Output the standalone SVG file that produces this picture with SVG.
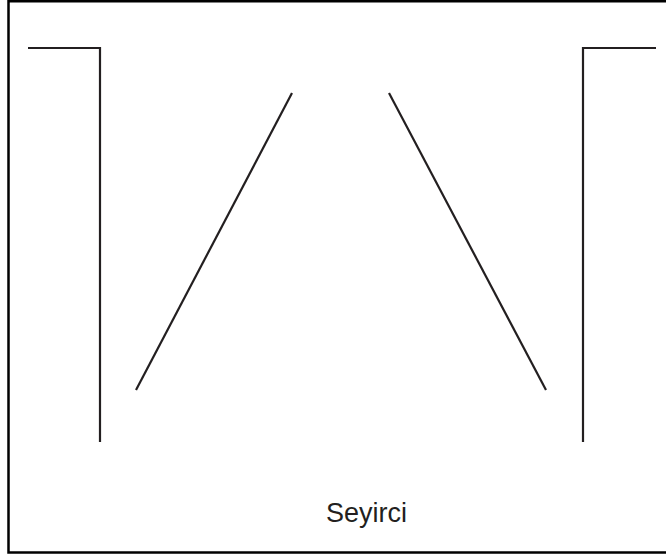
<svg xmlns="http://www.w3.org/2000/svg" width="666" height="557" viewBox="0 0 666 557">
<style>
.frame{fill:none;stroke:#000;stroke-width:2.5}
.wall{fill:none;stroke:#231f20;stroke-width:2.2}
.label{font-family:"Liberation Sans",Arial,sans-serif;font-size:27px;fill:#231f20;text-anchor:middle}
</style>
<rect width="666" height="557" fill="#fff"/>
<path class="frame" d="M700,1.2 H8.5 V552.5 H700"/>
<g id="left-wall"><path class="wall" d="M28,48 H100 V442"/></g>
<g id="right-wall"><path class="wall" d="M583,442 V48 H656"/></g>
<g id="connectors">
<line class="wall" x1="292" y1="93" x2="136" y2="390"/>
<line class="wall" x1="389" y1="93" x2="546" y2="390"/>
</g>
<g id="audience"><text class="label" x="366.5" y="522">Seyirci</text></g>
</svg>
